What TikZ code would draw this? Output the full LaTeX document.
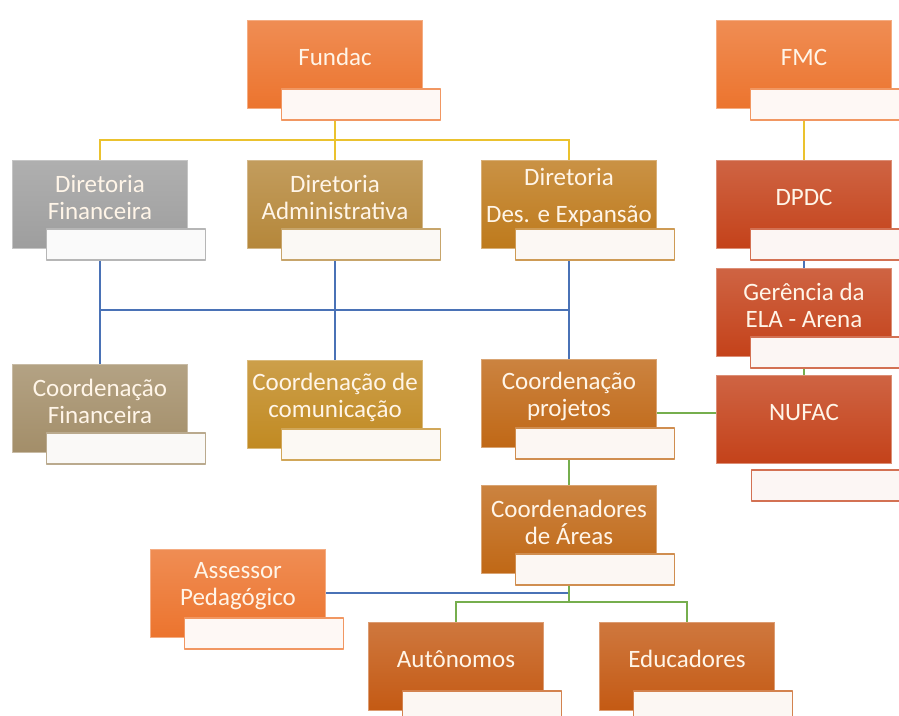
\documentclass[tikz,border=0pt]{standalone}
\usepackage{fontspec}
\setmainfont{Carlito}
\usetikzlibrary{backgrounds}

% cores das caixas
\definecolor{cOrange}{HTML}{EC742E}
\definecolor{cGray}{HTML}{9E9E9E}
\definecolor{cGold}{HTML}{B5873A}
\definecolor{cBronze}{HTML}{BE7A1C}
\definecolor{cRed}{HTML}{C4421A}
\definecolor{cKhaki}{HTML}{A38E69}
\definecolor{cAmber}{HTML}{C18A22}
\definecolor{cRust}{HTML}{C06816}
\definecolor{cBurnt}{HTML}{C45A14}
\definecolor{cText}{HTML}{FFF5E8}
% cores das linhas
\definecolor{lYel}{HTML}{EBC22E}
\definecolor{lBlu}{HTML}{4A72B6}
\definecolor{lGrn}{HTML}{76AE4E}

\tikzset{
  box/.style={minimum width=175pt, minimum height=88pt, inner sep=0pt,
    top color=#1!82!white, bottom color=#1, draw=#1!60!white, line width=0.8pt},
  boxtext/.style={text=cText, align=center, inner sep=0pt},
  tag/.style={minimum width=159pt, minimum height=31pt, inner sep=0pt,
    fill=#1!5!white, draw=#1!75!white, line width=1.2pt},
  yel/.style={draw=lYel, line width=1.5pt},
  blu/.style={draw=lBlu, line width=1.8pt},
  grn/.style={draw=lGrn, line width=1.5pt}
}

\begin{document}
\begin{tikzpicture}[x=1pt, y=-1pt, font=\fontsize{25}{27}\selectfont, line join=round]
\useasboundingbox (0,0) rectangle (899,715);
\clip (0,0) rectangle (899,715);

% caixas (centro x, centro y)
\foreach \n/\x/\y/\col/\txt in {
  fundac/335/64/cOrange/Fundac,
  fmc/804/64/cOrange/FMC,
  dfin/100/204/cGray/{Diretoria\\Financeira},
  dadm/335/204/cGold/{Diretoria\\Administrativa},
  ddes/569/204/cBronze/{Diretoria\\[10pt]Des. e Expansão},
  dpdc/804/204/cRed/DPDC,
  gere/804/312/cRed/{Gerência da\\ELA - Arena},
  nufac/804/419/cRed/NUFAC,
  cfin/100/408/cKhaki/{Coordenação\\Financeira},
  ccom/335/404/cAmber/{Coordenação de\\comunicação},
  cproj/569/403/cRust/{Coordenação\\projetos},
  careas/569/529/cRust/{Coordenadores\\de Áreas},
  asse/238/593/cOrange/{Assessor\\Pedagógico},
  auto/456/666/cBurnt/Autônomos,
  educ/687/666/cBurnt/Educadores}{
  \node[box=\col] (\n) at (\x,\y) {};
  \node[boxtext] (\n-t) at ([yshift=7pt]\n.center) {\txt};
}

% etiquetas brancas
\foreach \n/\col in {fundac/cOrange, fmc/cOrange, dfin/cGray, dadm/cGold,
  ddes/cBronze, dpdc/cRed, gere/cRed, cfin/cKhaki, ccom/cAmber, cproj/cRust,
  careas/cRust, asse/cOrange, auto/cBurnt, educ/cBurnt}
  \node[tag=\col, anchor=north west] (\n-l) at ([xshift=34pt,yshift=20pt]\n.south west) {};
\node[tag=cRed, anchor=north west] (nufac-l) at ([xshift=35pt,yshift=-6pt]nufac.south west) {};

\begin{pgfonlayer}{background}
  % diretorias
  \coordinate (ybus) at (335,140);
  \draw[yel] (fundac) -- (ybus) -- (dadm);
  \draw[yel] (dfin) |- (ybus) -| (ddes);
  \draw[yel] (fmc) -- (dpdc);
  % coordenacoes
  \coordinate (bbus) at (335,310);
  \draw[blu] (dfin) -- (cfin) (dadm) -- (ccom) (ddes) -- (cproj);
  \draw[blu] (dfin |- bbus) -- (ddes |- bbus);
  \draw[blu] (dpdc) -- (gere);
  \draw[grn] (gere) -- (nufac);
  \coordinate (pj) at ([yshift=-10pt]cproj.east);
  \draw[grn] (pj) -- (pj -| nufac.west);
  % areas
  \coordinate (gbus) at (569,602);
  \draw[blu] (asse.east) -- (asse.east -| careas);
  \draw[grn] (cproj) -- (careas) -- (gbus);
  \draw[grn] (auto) |- (gbus) -| (educ);
\end{pgfonlayer}
\end{tikzpicture}
\end{document}
